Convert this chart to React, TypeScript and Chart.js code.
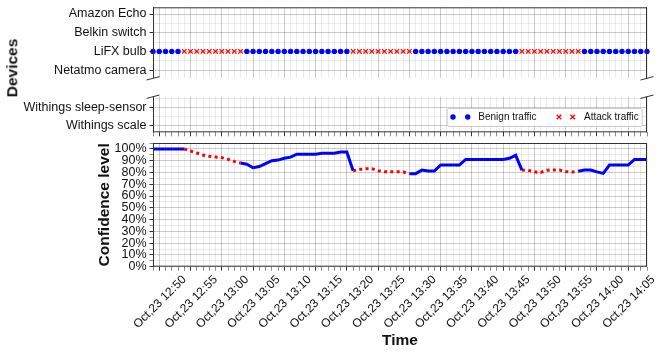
import React, { useEffect, useRef } from 'react';
import { Chart, registerables } from 'chart.js';

Chart.register(...registerables);

// ---------------- data ----------------
const DATE_PREFIX = 'Oct,23';
const START_HOUR = 12;
const START_MINUTE = 49; // first sample, one sample per minute

const UPPER_DEVICES = ['Netatmo camera', 'LiFX bulb', 'Belkin switch', 'Amazon Echo'];
const LOWER_DEVICES = ['Withings scale', 'Withings sleep-sensor'];
const OBSERVED_DEVICE = 'LiFX bulb';

// B = benign traffic, A = attack traffic (one entry per minute)
const TRAFFIC = [
  'B', 'B', 'B', 'B', 'B',
  'A', 'A', 'A', 'A', 'A', 'A', 'A', 'A', 'A', 'A',
  'B', 'B', 'B', 'B', 'B', 'B', 'B', 'B', 'B', 'B', 'B', 'B', 'B', 'B', 'B', 'B', 'B',
  'A', 'A', 'A', 'A', 'A', 'A', 'A', 'A', 'A', 'A',
  'B', 'B', 'B', 'B', 'B', 'B', 'B', 'B', 'B', 'B', 'B', 'B', 'B', 'B', 'B', 'B', 'B',
  'A', 'A', 'A', 'A', 'A', 'A', 'A', 'A', 'A', 'A',
  'B', 'B', 'B', 'B', 'B', 'B', 'B', 'B', 'B', 'B', 'B',
];

// confidence level (%) per minute
const CONFIDENCE = [
  100, 100, 100, 100, 100,
  100, 98.2, 96.5, 94.8, 93.7, 93.1, 92.6, 91.1, 89.4, 88,
  87, 84, 85, 87.5, 90, 90.5, 92, 93, 95.5, 95.5, 95.5, 95.5, 96.3, 96.3, 96.3, 97.4, 97.4,
  81.5, 82.5, 83.2, 83.2, 81.5, 80.6, 80.5, 80.6, 80.4, 79,
  79, 82, 81.2, 81.2, 86.3, 86.3, 86.3, 86.3, 91.1, 91.1, 91.1, 91.1, 91.1, 91.1, 91.1, 92, 94.5,
  82, 81.8, 80.5, 80, 81.8, 82, 82, 80.8, 80.4, 81,
  82, 82, 80.5, 79.2, 86.3, 86.3, 86.3, 86.3, 91.1, 91.1, 91.1,
];

const PERCENT_TICKS = [0, 5, 10, 15, 20, 25, 30, 35, 40, 45, 50, 55, 60, 65, 70, 75, 80, 85, 90, 95, 100, 105];
const UPPER_TICKS = [0, 0.5, 1, 1.5, 2, 2.5, 3];
const LOWER_TICKS = [0, 0.5, 1, 1.5];

// ---------------- style ----------------
const FONT = 'Liberation Sans';
const TEXT = '#111';
const AXIS = '#333';
const MAJOR = 'rgba(0,0,0,0.20)';
const MINOR = 'rgba(0,0,0,0.08)';
const BLUE = '#0000ff';
const RED = '#ff0000';

const W = 664;
const PLOT_LEFT = 153;
const PAD_RIGHT = 17;

Chart.defaults.font.family = FONT;
Chart.defaults.color = TEXT;

const isMajorMinute = (v: number) => (START_MINUTE + v) % 5 === 0;
const minuteLabel = (v: number) => {
  const total = START_HOUR * 60 + START_MINUTE + v;
  const h = Math.floor(total / 60);
  const m = total % 60;
  return `${DATE_PREFIX} ${h}:${String(m).padStart(2, '0')}`;
};

const zeroPad = (s: any) => {
  s.paddingLeft = 0;
  s.paddingRight = 0;
  s.paddingTop = 0;
  s.paddingBottom = 0;
};

function xAxis(labels: boolean, ticks: boolean, height: number) {
  return {
    type: 'linear',
    min: 0,
    max: TRAFFIC.length - 1,
    afterBuildTicks: (s: any) => {
      s.ticks = TRAFFIC.map((_, i) => ({ value: i }));
    },
    afterFit: (s: any) => {
      s.height = height;
      zeroPad(s);
    },
    grid: {
      color: (c: any) => (c.tick && isMajorMinute(c.tick.value) ? MAJOR : MINOR),
      lineWidth: 1,
      drawTicks: ticks,
      tickLength: 4,
      tickColor: (c: any) => (c.tick && isMajorMinute(c.tick.value) ? AXIS : 'rgba(0,0,0,0.45)'),
    },
    border: { display: false },
    ticks: {
      display: labels,
      autoSkip: false,
      minRotation: 45,
      maxRotation: 45,
      labelOffset: 25,
      padding: 2,
      font: { family: FONT, size: 12 },
      color: TEXT,
      callback: (v: any) => (isMajorMinute(Number(v)) ? minuteLabel(Number(v)) : ''),
    },
    title: labels
      ? {
          display: true,
          text: 'Time',
          font: { family: FONT, size: 15.5, weight: 'bold' },
          color: TEXT,
          padding: { top: 0, bottom: 5 },
        }
      : { display: false },
  };
}

function deviceAxis(min: number, max: number, tickVals: number[], names: string[]) {
  return {
    type: 'linear',
    min,
    max,
    afterBuildTicks: (s: any) => {
      s.ticks = tickVals.map((v) => ({ value: v }));
    },
    afterFit: (s: any) => {
      s.width = PLOT_LEFT;
      zeroPad(s);
    },
    grid: {
      color: (c: any) => (c.tick && Number.isInteger(c.tick.value) ? MAJOR : MINOR),
      tickLength: 3.5,
      tickColor: (c: any) => (c.tick && Number.isInteger(c.tick.value) ? AXIS : 'rgba(0,0,0,0)'),
    },
    border: { display: false },
    ticks: {
      autoSkip: false,
      padding: 3,
      font: { family: FONT, size: 12.5 },
      color: TEXT,
      callback: (v: any) => (Number.isInteger(Number(v)) ? names[Number(v)] ?? '' : ''),
    },
  };
}

// frame + axis-break marks
const framePlugin = {
  id: 'frame',
  afterDraw(chart: any, _args: any, opts: any) {
    const { ctx, chartArea: a } = chart;
    const sides: string[] = opts.sides || [];
    ctx.save();
    ctx.strokeStyle = AXIS;
    ctx.lineWidth = 1;
    ctx.beginPath();
    if (sides.includes('top')) { ctx.moveTo(a.left, a.top + 0.5); ctx.lineTo(a.right, a.top + 0.5); }
    if (sides.includes('bottom')) { ctx.moveTo(a.left, a.bottom - 0.5); ctx.lineTo(a.right, a.bottom - 0.5); }
    if (sides.includes('left')) { ctx.moveTo(a.left + 0.5, a.top); ctx.lineTo(a.left + 0.5, a.bottom); }
    if (sides.includes('right')) { ctx.moveTo(a.right - 0.5, a.top); ctx.lineTo(a.right - 0.5, a.bottom); }
    ctx.stroke();
    if (opts.breaks) {
      const y = opts.breaks === 'bottom' ? a.bottom : a.top;
      ctx.beginPath();
      for (const x of [a.left, a.right]) {
        ctx.moveTo(x - 6.5, y + 1.7);
        ctx.lineTo(x + 6.5, y - 1.7);
      }
      ctx.stroke();
    }
    ctx.restore();
  },
};

// legend with two markers per entry
const legendPlugin = {
  id: 'pairLegend',
  afterDraw(chart: any) {
    const { ctx, chartArea: a } = chart;
    const x0 = a.right - 200.3;
    const x1 = a.right - 5.3;
    const y0 = a.bottom - 24.3;
    const y1 = a.bottom - 6.3;
    const cy = (y0 + y1) / 2;
    ctx.save();
    ctx.fillStyle = 'rgba(255,255,255,0.9)';
    ctx.strokeStyle = '#cccccc';
    ctx.lineWidth = 1;
    ctx.beginPath();
    (ctx as any).roundRect ? ctx.roundRect(x0 + 0.5, y0 + 0.5, x1 - x0, y1 - y0, 2) : ctx.rect(x0 + 0.5, y0 + 0.5, x1 - x0, y1 - y0);
    ctx.fill();
    ctx.stroke();
    ctx.fillStyle = BLUE;
    for (const dx of [6.3, 21]) {
      ctx.beginPath();
      ctx.arc(x0 + dx, cy, 2.7, 0, Math.PI * 2);
      ctx.fill();
    }
    ctx.strokeStyle = RED;
    ctx.lineWidth = 1.3;
    for (const dx of [112.3, 126]) {
      const cx = x0 + dx;
      const r = 2.3;
      ctx.beginPath();
      ctx.moveTo(cx - r, cy - r); ctx.lineTo(cx + r, cy + r);
      ctx.moveTo(cx - r, cy + r); ctx.lineTo(cx + r, cy - r);
      ctx.stroke();
    }
    ctx.fillStyle = TEXT;
    ctx.font = `10px "${FONT}"`;
    ctx.textBaseline = 'middle';
    ctx.textAlign = 'left';
    ctx.fillText('Benign traffic', x0 + 31.6, cy);
    ctx.fillText('Attack traffic', x0 + 137.3, cy);
    ctx.restore();
  },
};

const baseOptions = {
  responsive: false,
  animation: false,
  devicePixelRatio: 1,
  events: [],
};

const observedRow = UPPER_DEVICES.indexOf(OBSERVED_DEVICE);

function configUpper(): any {
  const benign = TRAFFIC.map((t, i) => (t === 'B' ? { x: i, y: observedRow } : null)).filter(Boolean);
  const attack = TRAFFIC.map((t, i) => (t === 'A' ? { x: i, y: observedRow } : null)).filter(Boolean);
  return {
    type: 'scatter',
    data: {
      datasets: [
        { label: 'Benign traffic', data: benign, pointStyle: 'circle', pointRadius: 2.7, backgroundColor: BLUE, borderWidth: 0, clip: false },
        { label: 'Attack traffic', data: attack, pointStyle: 'crossRot', pointRadius: 3.2, borderColor: RED, backgroundColor: RED, borderWidth: 1.3, clip: false },
      ],
    },
    options: {
      ...baseOptions,
      layout: { padding: { top: 7.3, bottom: 5.7, left: 0, right: PAD_RIGHT } },
      scales: {
        x: xAxis(false, false, 0),
        y: deviceAxis(-0.44, 3.36, UPPER_TICKS, UPPER_DEVICES),
      },
      plugins: {
        legend: { display: false },
        tooltip: { enabled: false },
        frame: { sides: ['top', 'left', 'right'], breaks: 'bottom' },
      },
    },
    plugins: [framePlugin],
  };
}

function configLower(): any {
  return {
    type: 'scatter',
    data: { datasets: [] },
    options: {
      ...baseOptions,
      layout: { padding: { top: 10.7, bottom: 1.7, left: 0, right: PAD_RIGHT } },
      scales: {
        x: xAxis(false, true, 4),
        y: deviceAxis(-0.36, 1.58, LOWER_TICKS, LOWER_DEVICES),
      },
      plugins: {
        legend: { display: false },
        tooltip: { enabled: false },
        frame: { sides: ['bottom', 'left', 'right'], breaks: 'top' },
      },
    },
    plugins: [framePlugin, legendPlugin],
  };
}

function configConfidence(): any {
  const n = TRAFFIC.length;
  const isB = (i: number) => i >= 0 && i < n && TRAFFIC[i] === 'B';
  const blue = CONFIDENCE.map((v, i) => ({ x: i, y: isB(i) || isB(i - 1) || isB(i + 1) ? v : null }));
  const red = CONFIDENCE.map((v, i) => ({ x: i, y: TRAFFIC[i] === 'A' ? v : null }));
  const P = 95.7;
  return {
    type: 'line',
    data: {
      datasets: [
        { label: 'Benign', data: blue, borderColor: BLUE, borderWidth: 3, pointRadius: 0, tension: 0, fill: false, spanGaps: false },
        { label: 'Attack', data: red, borderColor: RED, borderWidth: 3, borderDash: [3, 3.3], pointRadius: 0, tension: 0, fill: false, spanGaps: false },
      ],
    },
    options: {
      ...baseOptions,
      layout: { padding: { top: 8, bottom: 0, left: P, right: PAD_RIGHT } },
      scales: {
        x: xAxis(true, true, 88.3),
        y: {
          type: 'linear',
          min: 0,
          max: 105,
          afterBuildTicks: (s: any) => {
            s.ticks = PERCENT_TICKS.map((v) => ({ value: v }));
          },
          afterFit: (s: any) => {
            s.width = PLOT_LEFT - P;
            zeroPad(s);
          },
          grid: {
            color: (c: any) => (c.tick && c.tick.value % 10 === 0 ? MAJOR : MINOR),
            tickLength: 3.5,
            tickColor: (c: any) => (c.tick && c.tick.value % 10 === 0 ? AXIS : 'rgba(0,0,0,0.45)'),
          },
          border: { display: false },
          ticks: {
            autoSkip: false,
            padding: 3,
            font: { family: FONT, size: 12.5 },
            color: TEXT,
            callback: (v: any) => (Number(v) % 10 === 0 && Number(v) <= 100 ? `${v}%` : ''),
          },
          title: {
            display: true,
            text: 'Confidence level',
            font: { family: FONT, size: 15.5, weight: 'bold' },
            color: TEXT,
            padding: { top: 0, bottom: 0 },
          },
        },
      },
      plugins: {
        legend: { display: false },
        tooltip: { enabled: false },
        frame: { sides: ['top', 'bottom', 'left', 'right'] },
      },
    },
    plugins: [framePlugin],
  };
}

export default function App() {
  const aRef = useRef<HTMLCanvasElement>(null);
  const bRef = useRef<HTMLCanvasElement>(null);
  const cRef = useRef<HTMLCanvasElement>(null);

  useEffect(() => {
    const charts = [
      new Chart(aRef.current as HTMLCanvasElement, configUpper()),
      new Chart(bRef.current as HTMLCanvasElement, configLower()),
      new Chart(cRef.current as HTMLCanvasElement, configConfidence()),
    ];
    return () => charts.forEach((c) => c.destroy());
  }, []);

  const abs = (top: number, height: number): React.CSSProperties => ({
    position: 'absolute',
    left: 0,
    top,
    width: W,
    height,
  });

  return (
    <div style={{ position: 'fixed', left: 0, top: 0, width: W, height: 355, background: '#fff', overflow: 'hidden' }}>
      <canvas ref={aRef} width={W} height={84} style={abs(0, 84)} />
      <canvas ref={bRef} width={W} height={52} style={abs(86, 52)} />
      <canvas ref={cRef} width={W} height={220} style={abs(135, 220)} />
      <div
        style={{
          position: 'absolute',
          left: 11.7,
          top: 68,
          transform: 'translate(-50%, -50%) rotate(-90deg)',
          font: `bold 15.5px "${FONT}"`,
          color: TEXT,
          whiteSpace: 'nowrap',
          lineHeight: 1,
        }}
      >
        Devices
      </div>
    </div>
  );
}
